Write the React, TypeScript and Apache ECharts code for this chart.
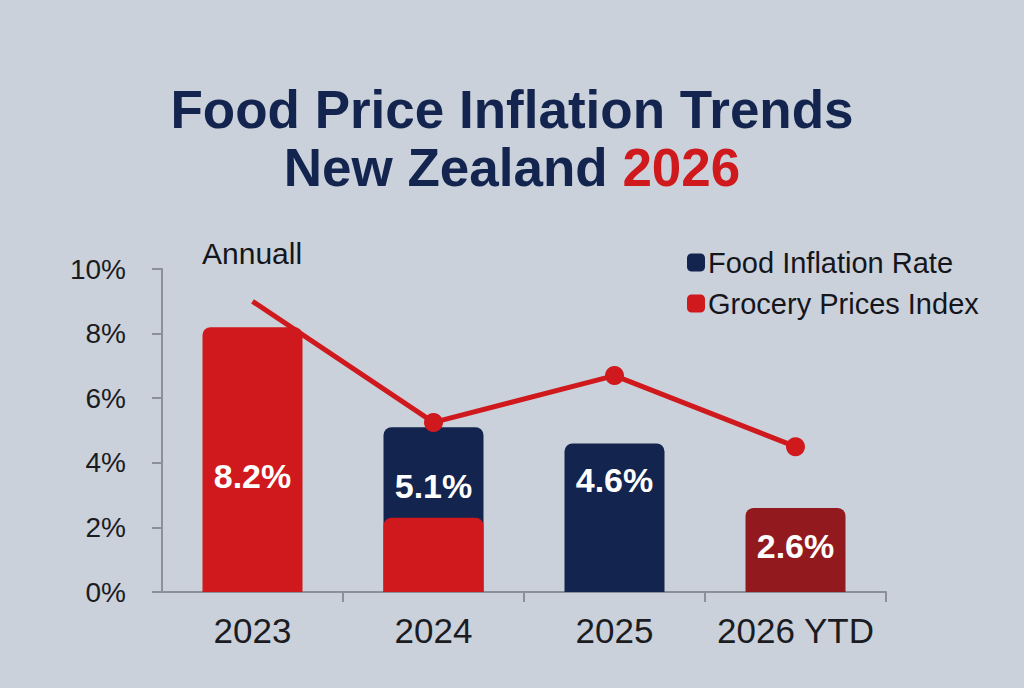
import React, { useEffect, useRef } from "react";
import * as echarts from "echarts";

// Categories along the x axis
const categories = ["2023", "2024", "2025", "2026 YTD"];

// Bar series values (percent)
const foodInflationRate = [null, 5.1, 4.6, null];
const groceryPricesIndex = [8.2, 2.3, null, 2.6];
// Which grocery bars carry a value label
const groceryLabelled = [true, false, false, true];

// Trend line values (percent)
const groceryTrend = [9.0, 5.25, 6.7, 4.5];

// Y axis range and step
const yMin = 0;
const yMax = 10;
const yStep = 2;

const NAVY = "#13244e";
const RED = "#d0191d";
const DARK_RED = "#921a1f";
const INK = "#1b1c22";
const AXIS_GREY = "#8b9099";
const BG = "#cad1db";
const FONT = "'Liberation Sans', Arial, Helvetica, sans-serif";

export default function App() {
  const ref = useRef<HTMLDivElement>(null);

  useEffect(() => {
    if (!ref.current) return;
    const chart = echarts.init(ref.current, undefined, { renderer: "svg" });

    const barLabel = {
      show: true,
      position: "inside",
      color: "#ffffff",
      fontFamily: FONT,
      fontWeight: "bold",
      fontSize: 34,
      formatter: "{c}%",
    };

    // Nudges that keep each label inside the visible part of its bar
    const foodOffsets: Record<number, number[]> = { 1: [0, -24], 2: [0, -38] };
    const groceryOffsets: Record<number, number[]> = { 0: [0, 16], 3: [0, -4] };

    const option: echarts.EChartsOption = {
      animation: false,
      backgroundColor: BG,
      title: {
        left: "center",
        top: 75,
        text: "{n|Food Price Inflation Trends}\n{n|New Zealand }{r|2026}",
        textStyle: {
          rich: {
            n: {
              fontFamily: FONT,
              fontWeight: "bold",
              fontSize: 53,
              lineHeight: 58,
              color: NAVY,
            },
            r: {
              fontFamily: FONT,
              fontWeight: "bold",
              fontSize: 53,
              lineHeight: 58,
              color: RED,
            },
          },
        },
      },
      legend: {
        orient: "vertical",
        left: 682,
        top: 243,
        icon: "roundRect",
        itemWidth: 18,
        itemHeight: 18,
        itemGap: 12,
        data: ["Food Inflation Rate", "Grocery Prices Index"],
        textStyle: {
          fontFamily: FONT,
          fontSize: 29,
          lineHeight: 28,
          color: "#15161b",
          padding: [0, 0, 0, -2],
        },
      },
      graphic: [
        {
          type: "text",
          left: 252 - 50,
          top: 238,
          style: {
            text: "Annuall",
            fontFamily: FONT,
            fontSize: 30,
            fill: "#15161b",
          },
        },
      ],
      grid: { left: 162, right: 138, top: 269, bottom: 96 },
      xAxis: {
        type: "category",
        data: categories,
        axisLine: { show: true, lineStyle: { color: AXIS_GREY, width: 2 } },
        axisTick: {
          show: true,
          length: 10,
          interval: (i: number) => i > 0,
          lineStyle: { color: AXIS_GREY, width: 2 },
        },
        axisLabel: {
          interval: 0,
          margin: 21,
          fontFamily: FONT,
          fontSize: 35,
          color: INK,
        },
      },
      yAxis: {
        type: "value",
        min: yMin,
        max: yMax,
        interval: yStep,
        splitLine: { show: false },
        axisLine: { show: true, lineStyle: { color: AXIS_GREY, width: 2 } },
        axisTick: { show: true, length: 10, lineStyle: { color: AXIS_GREY, width: 2 } },
        axisLabel: {
          margin: 36,
          fontFamily: FONT,
          fontSize: 28,
          color: INK,
          formatter: "{value}%",
          padding: [6, 0, 0, 0],
        },
      },
      series: [
        {
          name: "Food Inflation Rate",
          type: "bar",
          z: 2,
          barWidth: 100,
          barGap: "-100%",
          color: NAVY,
          itemStyle: { color: NAVY, borderRadius: [8, 8, 0, 0] },
          data: foodInflationRate.map((v, i) => ({
            value: v,
            label: { ...barLabel, offset: foodOffsets[i] || [0, 0] },
          })) as any,
        },
        {
          name: "Grocery trend",
          type: "line",
          z: 3,
          data: groceryTrend.map((v, i) =>
            i === 0 ? { value: v, symbol: "none" } : v
          ) as any,
          symbol: "circle",
          symbolSize: 19,
          lineStyle: { color: RED, width: 5 },
          itemStyle: { color: RED },
        },
        {
          name: "Grocery Prices Index",
          type: "bar",
          z: 4,
          barWidth: 100,
          barGap: "-100%",
          color: RED,
          itemStyle: { color: RED, borderRadius: [8, 8, 0, 0] },
          data: groceryPricesIndex.map((v, i) => ({
            value: v,
            itemStyle: i === 3 ? { color: DARK_RED } : undefined,
            label: groceryLabelled[i]
              ? { ...barLabel, offset: groceryOffsets[i] || [0, 0] }
              : { show: false },
          })) as any,
        },
      ],
    };

    chart.setOption(option);
    return () => chart.dispose();
  }, []);

  return (
    <div
      ref={ref}
      style={{ position: "fixed", left: 0, top: 0, width: 1024, height: 688 }}
    />
  );
}
